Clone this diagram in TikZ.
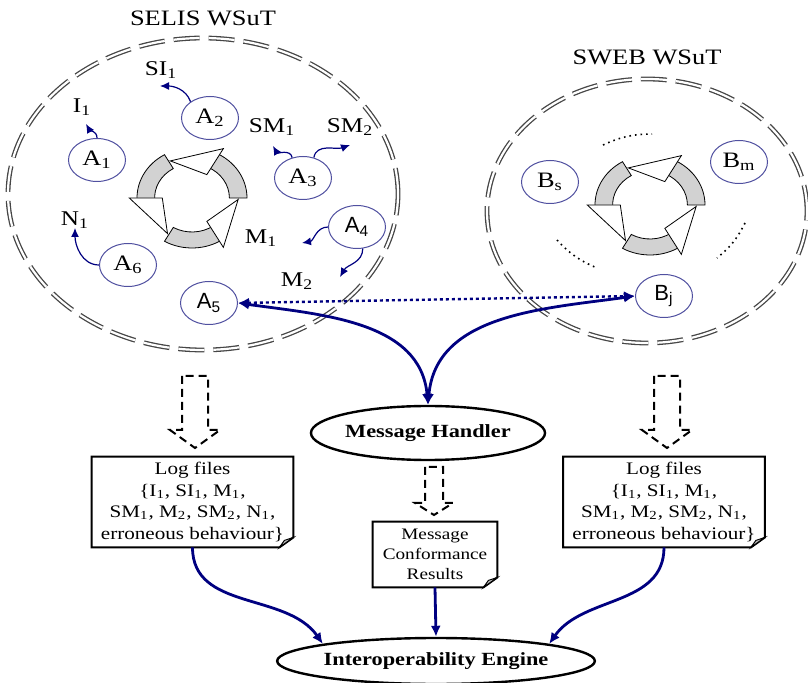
\documentclass[tikz,border=0pt]{standalone}
\usepackage{fontspec}
\setmainfont[FakeStretch=1.2]{Liberation Serif}
\newfontfamily\arialfont{Liberation Sans}
\usetikzlibrary{arrows.meta, shapes.geometric, calc}
\definecolor{navyline}{RGB}{0,0,128}
\definecolor{agentline}{RGB}{80,80,160}
\definecolor{wsutgray}{RGB}{70,70,70}
\newcommand{\logtext}{Log files\\\{I\textsubscript{1}, SI\textsubscript{1}, M\textsubscript{1},\\SM\textsubscript{1}, M\textsubscript{2}, SM\textsubscript{2}, N\textsubscript{1},\\erroneous behaviour\}}

\begin{document}
\begin{tikzpicture}[x=0.5pt, y=0.5pt,
    wsut/.style={draw=wsutgray, double=white, double distance=1.1pt, line width=0.65pt, dash pattern=on 13pt off 4.5pt},
    title/.style={font=\fontsize{11}{13}\selectfont},
    agent/.style={ellipse, draw=agentline, line width=0.5pt, fill=white, minimum width=28.5pt, minimum height=21.5pt, inner sep=0pt, font=\fontsize{11}{12}\selectfont},
    agentsf/.style={agent, font=\arialfont\fontsize{11}{12}\selectfont},
    lbl/.style={font=\fontsize{10.5}{12}\selectfont, inner sep=1pt},
    emit/.style={-{Latex[length=4.5pt,width=4pt]}, navyline, line width=0.6pt},
    handler/.style={{Latex[length=5.5pt,width=5pt]}-{Latex[length=5.5pt,width=5pt]}, navyline, line width=1.4pt},
    feed/.style={-{Latex[length=5.5pt,width=5pt]}, navyline, line width=1.4pt},
    probe/.style={handler, line width=1.2pt, dash pattern=on 1.5pt off 1.5pt},
    module/.style={ellipse, draw, line width=1.2pt, font=\bfseries\fontsize{9.3}{11}\selectfont, inner sep=0pt},
    doc/.style={align=center, inner sep=1pt, font=\fontsize{8.8}{10.8}\selectfont},
    docline/.style={line width=1pt},
    hollow/.style={line width=1pt, dash pattern=on 4pt off 2.5pt},
    dotarc/.style={line width=0.8pt, dotted},
    pics/recycle/.style={code={
        \foreach \a in {0,120,240} {
          \draw[fill=gray!35, line width=0.4pt] (\a:34) arc[start angle=\a, end angle=\a+65, radius=34]
            -- (\a+65:50) arc[start angle=\a+65, end angle=\a, radius=50] -- cycle;
          \draw[fill=white, line width=0.4pt] (\a+60:27) -- (\a+60:57) -- (\a+118:42) -- cycle;
        }
    }},
    pics/blockdown/.style n args={4}{code={
        \draw[hollow] (-#2,0) -- (-#2,-#1+#4) -- (-#3,-#1+#4) -- (0,-#1) -- (#3,-#1+#4) -- (#2,-#1+#4) -- (#2,0) -- cycle;
    }}
]
\useasboundingbox (0,0) rectangle (808,-683);

% the two web services under test
\draw[wsut] (203,-194) ellipse[x radius=195, y radius=156];
\draw[wsut] (647,-211) ellipse[x radius=160, y radius=132];
\node[title] (selis) at (203,-18) {SELIS WSuT};
\node[title] (sweb) at (647,-57) {SWEB WSuT};

\pic[xscale=1.1] at (192,-198) {recycle};
\pic[xscale=1.1] at (650,-205) {recycle};

% SELIS agents
\node[agent] (A1) at (97,-160) {A\textsubscript{1}};
\node[agent] (A2) at (210,-118) {A\textsubscript{2}};
\node[agent] (A3) at (303,-178) {A\textsubscript{3}};
\node[agentsf] (A4) at (357,-227) {A\textsubscript{4}};
\node[agentsf] (A5) at (209,-303) {A\textsubscript{5}};
\node[agent] (A6) at (128,-265) {A\textsubscript{6}};

\node[lbl] (I1) at (82,-107) {I\textsubscript{1}};
\node[lbl] (SI1) at (161,-70) {SI\textsubscript{1}};
\node[lbl] (SM1) at (272,-127) {SM\textsubscript{1}};
\node[lbl] (SM2) at (350,-127) {SM\textsubscript{2}};
\node[lbl] (N1) at (75,-220) {N\textsubscript{1}};
\node[lbl] (M1) at (261,-238) {M\textsubscript{1}};
\node[lbl] (M2) at (297,-281) {M\textsubscript{2}};

\coordinate (i1tip) at (86,-124);
\coordinate (si1tip) at (160,-86);
\coordinate (sm1tip) at (273,-146);
\coordinate (sm2tip) at (350,-145);
\coordinate (m1tip) at (302,-243);
\coordinate (m2tip) at (340,-277);
\coordinate (n1tip) at (75,-228);

\draw[emit] (A1.north) to[out=90, in=-60] (i1tip);
\draw[emit] (A2.140) to[out=110, in=0] (si1tip);
\draw[emit] (A3.118) to[out=100, in=-60] (sm1tip);
\draw[emit] (A3.62) to[out=80, in=200] (sm2tip);
\draw[emit] (A4.west) to[out=180, in=10] (m1tip);
\draw[emit] (A4.-75) to[out=-90, in=60] (m2tip);
\draw[emit] (A6.west) to[out=180, in=-90] (n1tip);

% SWEB agents
\node[agent] (Bs) at (550,-182) {B\textsubscript{s}};
\node[agent] (Bm) at (739,-162) {B\textsubscript{m}};
\node[agentsf] (Bj) at (664,-296) {B\textsubscript{j}};
\draw[dotarc] (603,-145) to[bend left=12] (652,-134);
\draw[dotarc] (557,-240) to[bend right=12] (597,-268);
\draw[dotarc] (745,-223) to[bend left=12] (717,-258);

% message handler and results
\node[module, minimum width=108pt, minimum height=27pt] (MH) at (428,-433) {Message Handler};
\draw[probe] (A5.east) -- (Bj.west);
\draw[handler] (A5.east) to[out=-8, in=95] (MH.north);
\draw[handler] (Bj.west) to[out=188, in=85] (MH.north);

\node[doc, minimum width=100.5pt, minimum height=45pt] (logL) at (192.5,-502) {\logtext};
\node[doc, minimum width=100.5pt, minimum height=45pt] (logR) at (664,-502) {\logtext};
\node[doc, minimum width=62pt, minimum height=32.5pt, font=\fontsize{8}{10}\selectfont] (mcr) at (435,-554.5) {Message\\Conformance\\Results};
\foreach \d in {logL, logR, mcr} {
  \draw[docline] (\d.north west) -- (\d.north east) -- ([yshift=5pt]\d.south east)
    -- ([xshift=-7pt]\d.south east) -- (\d.south west) -- cycle;
  \draw[fill=gray!50, line width=0.5pt] ([yshift=5pt]\d.south east) -- ([xshift=-7pt]\d.south east)
    -- ([xshift=-4.5pt,yshift=3.5pt]\d.south east) -- cycle;
}

\pic at (195,-376) {blockdown={72}{13}{25}{18}};
\pic at (667,-376) {blockdown={72}{13}{25}{18}};
\pic at (434,-467) {blockdown={48}{9}{19}{12}};

\node[module, minimum width=121.5pt, minimum height=23pt] (IE) at (436,-661) {Interoperability Engine};
\draw[feed] (logL.south) to[out=-90, in=125] (IE.north west);
\draw[feed] (mcr.south) -- (IE.north);
\draw[feed] (logR.south) to[out=-90, in=55] (IE.north east);
\end{tikzpicture}
\end{document}
